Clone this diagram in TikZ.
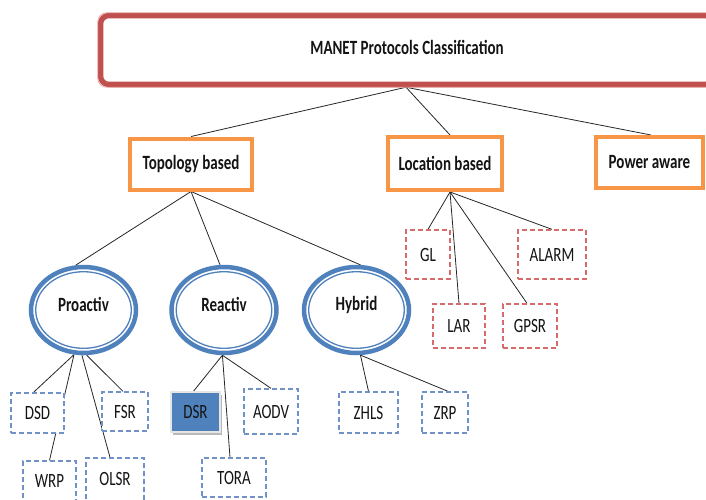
\documentclass[tikz,border=0pt]{standalone}
\usepackage{fontspec}
\usepackage{graphicx}
\setmainfont{Carlito}
\usetikzlibrary{shapes.geometric,shadows,backgrounds}
\definecolor{frameRed}{HTML}{C0504D}
\definecolor{frameRedLight}{HTML}{E8A9A7}
\definecolor{boxOrange}{HTML}{F79646}
\definecolor{ringBlue}{HTML}{4F81BD}
\definecolor{dashBlue}{HTML}{6F93C8}
\definecolor{dashRed}{HTML}{D56B6A}
\definecolor{inkDark}{HTML}{141414}
% tall, narrow lettering
\newcommand\tallText[1]{\scalebox{1}[1.35]{#1}}
\begin{document}
\begin{tikzpicture}[x=1pt,y=-1pt,
  heading/.style={font=\fontsize{15}{17}\selectfont\bfseries, text=inkDark},
  catbox/.style={draw=boxOrange, line width=4pt, fill=white, inner sep=0pt, heading},
  ring/.style={ellipse, draw=ringBlue, line width=4.5pt, fill=white,
    minimum width=105pt, minimum height=86pt, inner sep=0pt, heading},
  leaf/.style={dash pattern=on 5pt off 3pt, line width=1.3pt, fill=white, inner sep=0pt,
    font=\fontsize{15}{17}\selectfont, text=inkDark},
  leafb/.style={leaf, draw=dashBlue},
  leafr/.style={leaf, draw=dashRed},
  link/.style={draw=black!85, line width=0.8pt}]
\useasboundingbox (0,0) rectangle (706,499);

% root frame
\node[draw=frameRed, line width=4.5pt, rounded corners=9pt, inner sep=0pt,
      minimum width=614pt, minimum height=70pt, heading] (root) at (407,50)
      {\raisebox{6pt}{\tallText{MANET Protocols Classification}}};
\draw[frameRedLight, line width=0.8pt, rounded corners=9pt]
  (root.north west) rectangle (root.south east);
\draw[frameRed, line width=1.2pt, rounded corners=6pt]
  ([xshift=5pt,yshift=-5pt]root.north west) rectangle ([xshift=-5pt,yshift=5pt]root.south east);

% categories
\node[catbox, minimum width=122pt, minimum height=51pt] (topo) at (191,164) {\tallText{Topology based}};
\node[catbox, minimum width=114pt, minimum height=53pt] (loc) at (445,163.5) {\tallText{Location based}};
\node[catbox, minimum width=107pt, minimum height=51pt] (pow) at (649.5,162.5) {\tallText{Power aware}};

% topology families
\node[ring] (pro) at (83.5,310) {\raisebox{11pt}{\tallText{Proactiv}}};
\node[ring] (rea) at (224,310) {\raisebox{11pt}{\tallText{Reactiv}}};
\node[ring] (hyb) at (356.5,310) {\raisebox{13pt}{\tallText{Hybrid}}};
\foreach \n in {pro,rea,hyb}
  \draw[ringBlue, line width=1.3pt] (\n.center) ellipse [x radius=47.8pt, y radius=38.3pt];

% location based protocols
\node[leafr, minimum width=44pt, minimum height=49pt] (gl) at (428,254.5) {\tallText{GL}};
\node[leafr, minimum width=68pt, minimum height=49pt] (alarm) at (552,254.5) {\tallText{ALARM}};
\node[leafr, minimum width=52pt, minimum height=44pt] (lar) at (459,326) {\tallText{LAR}};
\node[leafr, minimum width=54pt, minimum height=44pt] (gpsr) at (530,326) {\tallText{GPSR}};

% proactive protocols
\node[leafb, minimum width=53pt, minimum height=40pt] (dsd) at (37.5,413) {\tallText{DSD}};
\node[leafb, minimum width=46pt, minimum height=39pt] (fsr) at (125,411.5) {\tallText{FSR}};
\node[leafb, minimum width=53pt, minimum height=46pt] (wrp) at (49.5,484) {\raisebox{6pt}{\tallText{WRP}}};
\node[leafb, minimum width=58pt, minimum height=48pt] (olsr) at (115,482) {\raisebox{6pt}{\tallText{OLSR}}};

% reactive protocols
\node[fill=ringBlue, draw=gray!20, line width=1.5pt, inner sep=0pt,
      minimum width=49pt, minimum height=40pt, font=\fontsize{15}{17}\selectfont, text=inkDark,
      drop shadow={shadow xshift=2pt, shadow yshift=-3pt, fill=gray!55, opacity=1}]
      (dsr) at (195.5,412) {\tallText{DSR}};
\node[leafb, minimum width=54pt, minimum height=45pt] (aodv) at (271,411.5) {\tallText{AODV}};
\node[leafb, minimum width=64pt, minimum height=39pt] (tora) at (234,477.5) {\tallText{TORA}};

% hybrid protocols
\node[leafb, minimum width=59pt, minimum height=41pt] (zhls) at (368.5,412.5) {\tallText{ZHLS}};
\node[leafb, minimum width=46pt, minimum height=41pt] (zrp) at (445,412.5) {\tallText{ZRP}};

% connectors
\begin{scope}[on background layer]
  \draw[link] ([xshift=-1pt]root.south) -- (topo.north);
  \draw[link] ([xshift=-1pt]root.south) -- ([xshift=5pt]loc.north);
  \draw[link] ([xshift=-1pt]root.south) -- ([xshift=1.5pt]pow.north);

  \draw[link] (topo.south) -- (pro.100);
  \draw[link] (topo.south) -- (rea.95);
  \draw[link] (topo.south) -- (hyb.85);

  \draw[link] ([xshift=5pt]loc.south) -- (gl.north);
  \draw[link] ([xshift=5pt]loc.south) -- (lar.north);
  \draw[link] ([xshift=5pt]loc.south) -- ([xshift=-3pt]gpsr.north);
  \draw[link] ([xshift=5pt]loc.south) -- (alarm.north);

  \draw[link] (pro.258) -- ([xshift=-4pt]dsd.north);
  \draw[link] (pro.258) -- (wrp.north);
  \draw[link] (pro.268) -- ([xshift=-5pt]olsr.north);
  \draw[link] (pro.274) -- ([xshift=-2pt]fsr.north);

  \draw[link] (rea.268) -- ([xshift=-2pt]dsr.north);
  \draw[link] (rea.268) -- ([xshift=-4pt]tora.north);
  \draw[link] (rea.268) -- (aodv.north);

  \draw[link] (hyb.275) -- (zhls.north);
  \draw[link] (hyb.275) -- ([xshift=3pt]zrp.north);
\end{scope}
\end{tikzpicture}
\end{document}
